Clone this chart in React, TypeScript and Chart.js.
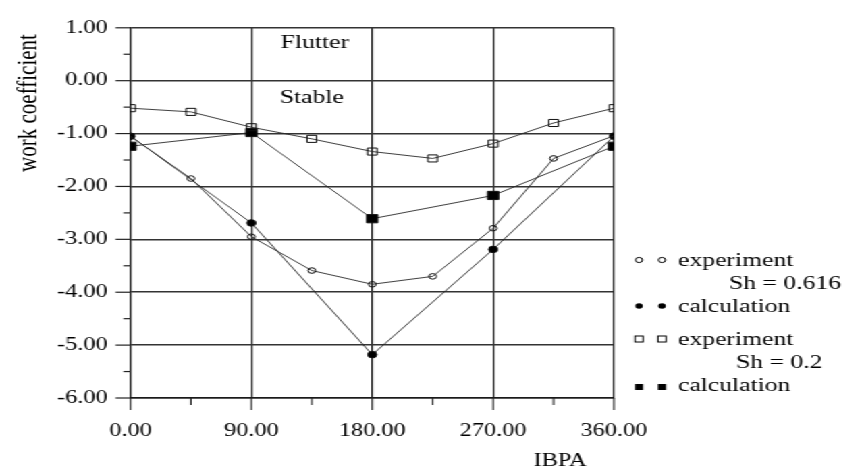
import React, { useEffect, useRef } from 'react';
import { Chart, registerables } from 'chart.js';

Chart.register(...registerables);

// ---- data ----
const IBPA_EXP = [0, 45, 90, 135, 180, 225, 270, 315, 360];
const IBPA_CALC = [0, 90, 180, 270, 360];
const EXP_SH0616 = [-1.05, -1.85, -2.95, -3.59, -3.85, -3.7, -2.79, -1.47, -1.04];
const CALC_SH0616 = [-1.05, -2.69, -5.18, -3.19, -1.05];
const EXP_SH02 = [-0.52, -0.59, -0.88, -1.1, -1.34, -1.47, -1.19, -0.8, -0.52];
const CALC_SH02 = [-1.24, -0.98, -2.61, -2.17, -1.24];
const X_MAJOR = [0, 90, 180, 270, 360];
const Y_MAJOR = [1, 0, -1, -2, -3, -4, -5, -6];
const LEGEND_LINES = ['experiment', 'Sh = 0.616', 'calculation', 'experiment', 'Sh = 0.2', 'calculation'];
const REGION_LABELS = ['Flutter', 'Stable'];
const X_TITLE = 'IBPA';
const Y_TITLE = 'work coefficient';

// ---- layout (canvas is stretched horizontally by SX) ----
const SX = 1.35;
const W = 627;
const H = 475;
const FONT = '"Liberation Serif", "Times New Roman", serif';

const toPts = (xs: number[], ys: number[]) => xs.map((x, i) => ({ x, y: ys[i] }));

const decor = {
  id: 'decor',
  afterDraw(chart: any) {
    const ctx: CanvasRenderingContext2D = chart.ctx;
    const xs = chart.scales.x;
    const ys = chart.scales.y;
    const { left, bottom } = chart.chartArea;
    ctx.save();
    ctx.strokeStyle = '#222';
    ctx.lineWidth = 1.2;
    // y ticks (major + minor)
    for (let v = Y_MAJOR[Y_MAJOR.length - 1]; v <= Y_MAJOR[0]; v += 0.5) {
      const y = ys.getPixelForValue(v);
      const len = Number.isInteger(v) ? 15 / SX : 7 / SX;
      ctx.beginPath();
      ctx.moveTo(left - len, y);
      ctx.lineTo(left, y);
      ctx.stroke();
    }
    // x ticks (major + minor)
    ctx.lineWidth = 1.1;
    for (let v = X_MAJOR[0]; v <= X_MAJOR[X_MAJOR.length - 1]; v += 45) {
      const x = xs.getPixelForValue(v);
      const len = v % 90 === 0 ? 12 : 7;
      ctx.beginPath();
      ctx.moveTo(x, bottom);
      ctx.lineTo(x, bottom + len);
      ctx.stroke();
    }

    ctx.fillStyle = '#000';
    // region labels
    ctx.font = `19px ${FONT}`;
    ctx.textAlign = 'center';
    ctx.textBaseline = 'alphabetic';
    const cx = xs.getPixelForValue(135);
    ctx.fillText(REGION_LABELS[0], cx + 3 / SX, 48);
    ctx.fillText(REGION_LABELS[1], cx, 103);

    // axis titles
    ctx.font = `18px ${FONT}`;
    ctx.fillText(X_TITLE, 560 / SX, 466);
    ctx.save();
    ctx.translate(37 / SX, 103);
    ctx.rotate(-Math.PI / 2);
    ctx.font = `21px ${FONT}`;
    ctx.fillText(Y_TITLE, 0, 0);
    ctx.restore();

    // legend
    ctx.font = `19px ${FONT}`;
    ctx.textAlign = 'left';
    const tx = 678 / SX;
    const baselines = [266, 289, 312, 345, 368, 391];
    ctx.fillText(LEGEND_LINES[0], tx, baselines[0]);
    ctx.fillText(LEGEND_LINES[1], 729 / SX, baselines[1]);
    ctx.fillText(LEGEND_LINES[2], tx, baselines[2]);
    ctx.fillText(LEGEND_LINES[3], tx, baselines[3]);
    ctx.fillText(LEGEND_LINES[4], 736 / SX, baselines[4]);
    ctx.fillText(LEGEND_LINES[5], tx, baselines[5]);

    const sx1 = 639 / SX;
    const sx2 = 662 / SX;
    ctx.lineWidth = 1;
    ctx.strokeStyle = '#000';
    // open circles
    for (const x of [sx1, sx2]) {
      ctx.beginPath();
      ctx.arc(x, 260, 2.6, 0, Math.PI * 2);
      ctx.stroke();
    }
    // filled circles
    for (const x of [sx1, sx2]) {
      ctx.beginPath();
      ctx.arc(x, 306, 2.8, 0, Math.PI * 2);
      ctx.fill();
    }
    // open squares
    for (const x of [sx1, sx2]) {
      ctx.strokeRect(x - 3, 339 - 3, 6, 6);
    }
    // filled squares
    for (const x of [sx1, sx2]) {
      ctx.fillRect(x - 3, 387 - 3, 6, 6);
    }
    ctx.restore();
  },
};

export default function App() {
  const ref = useRef<HTMLCanvasElement>(null);

  useEffect(() => {
    const canvas = ref.current;
    if (!canvas) return;
    const lineCommon = {
      borderColor: '#2a2a2a',
      borderWidth: 0.9,
      tension: 0,
      fill: false,
      pointBorderColor: '#111',
      pointBorderWidth: 1,
      pointHoverRadius: 0,
    };
    const chart = new Chart(canvas, {
      type: 'line',
      data: {
        datasets: [
          {
            ...lineCommon,
            label: 'experiment Sh=0.616',
            data: toPts(IBPA_EXP, EXP_SH0616),
            pointStyle: 'circle',
            pointRadius: 2.8,
            pointBackgroundColor: 'rgba(0,0,0,0)',
          },
          {
            ...lineCommon,
            label: 'calculation Sh=0.616',
            data: toPts(IBPA_CALC, CALC_SH0616),
            pointStyle: 'circle',
            pointRadius: 3.3,
            pointBackgroundColor: '#000',
          },
          {
            ...lineCommon,
            label: 'experiment Sh=0.2',
            data: toPts(IBPA_EXP, EXP_SH02),
            pointStyle: 'rect',
            pointRadius: 5,
            pointBackgroundColor: 'rgba(0,0,0,0)',
          },
          {
            ...lineCommon,
            label: 'calculation Sh=0.2',
            data: toPts(IBPA_CALC, CALC_SH02),
            pointStyle: 'rect',
            pointRadius: 5.8,
            pointBackgroundColor: '#000',
          },
        ],
      },
      options: {
        responsive: false,
        animation: false,
        devicePixelRatio: 1,
        events: [],
        layout: { padding: { left: 0, right: W - 614 / SX, top: 15, bottom: 0 } },
        plugins: { legend: { display: false }, tooltip: { enabled: false }, title: { display: false } },
        scales: {
          x: {
            type: 'linear',
            min: X_MAJOR[0],
            max: X_MAJOR[X_MAJOR.length - 1],
            afterFit: (s: any) => { s.height = H - 398; },
            ticks: {
              stepSize: 45,
              autoSkip: false,
              maxRotation: 0,
              minRotation: 0,
              padding: 22,
              color: '#000',
              font: { family: FONT, size: 18 },
              callback: (v: any) => (X_MAJOR.includes(Number(v)) ? Number(v).toFixed(2) : ''),
            },
            grid: {
              drawTicks: false,
              lineWidth: 1.2,
              color: (c: any) => (c.tick && X_MAJOR.includes(c.tick.value) ? '#1a1a1a' : 'rgba(0,0,0,0)'),
            },
            border: { display: true, color: '#1a1a1a', width: 1.6 },
          },
          y: {
            type: 'linear',
            min: Y_MAJOR[Y_MAJOR.length - 1],
            max: Y_MAJOR[0],
            afterFit: (s: any) => { s.width = 130.5 / SX; },
            ticks: {
              stepSize: 1,
              padding: 17,
              color: '#000',
              font: { family: FONT, size: 18 },
              callback: (v: any) => Number(v).toFixed(2),
            },
            grid: { drawTicks: false, lineWidth: 1.6, color: '#333' },
            border: { display: true, color: '#1a1a1a', width: 1.2 },
          },
        },
      },
      plugins: [decor],
    } as any);
    return () => chart.destroy();
  }, []);

  return (
    <div
      style={{
        position: 'fixed',
        left: 0,
        top: 0,
        width: W,
        height: H,
        transform: `scaleX(${SX})`,
        transformOrigin: '0 0',
        background: '#fff',
      }}
    >
      <canvas ref={ref} width={W} height={H} style={{ display: 'block' }} />
    </div>
  );
}
